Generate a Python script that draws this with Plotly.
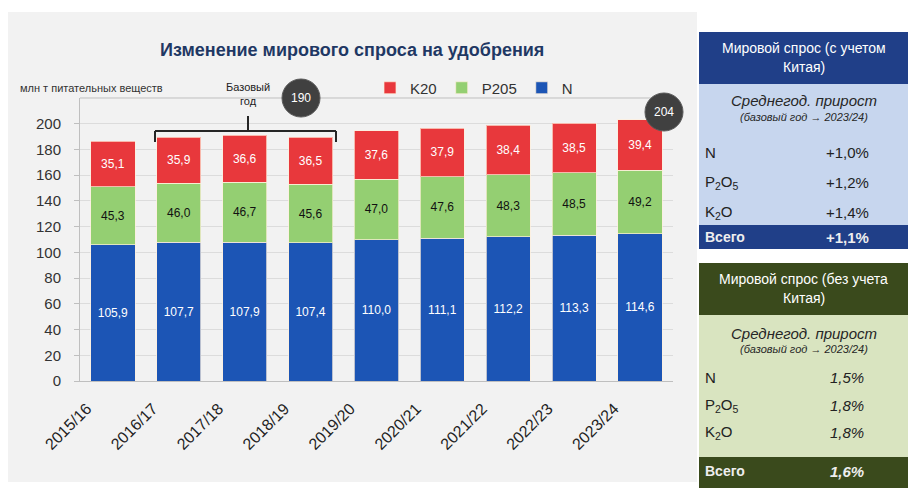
import plotly.graph_objects as go

# --- data -------------------------------------------------------------
seasons = ["2015/16", "2016/17", "2017/18", "2018/19", "2019/20",
           "2020/21", "2021/22", "2022/23", "2023/24"]
n_vals = [105.9, 107.7, 107.9, 107.4, 110.0, 111.1, 112.2, 113.3, 114.6]
p2o5_vals = [45.3, 46.0, 46.7, 45.6, 47.0, 47.6, 48.3, 48.5, 49.2]
k2o_vals = [35.1, 35.9, 36.6, 36.5, 37.6, 37.9, 38.4, 38.5, 39.4]

base_label = "190"
last_label = "204"

y_ticks = [0, 20, 40, 60, 80, 100, 120, 140, 160, 180, 200]

nutrients = ["N", "P<sub>2</sub>O<sub>5</sub>", "K<sub>2</sub>O"]
growth_with_china = ["+1,0%", "+1,2%", "+1,4%"]
total_with_china = "+1,1%"
growth_without_china = ["1,5%", "1,8%", "1,8%"]
total_without_china = "1,6%"

# --- colours / fonts --------------------------------------------------
C_N = "#1c55b5"
C_P = "#94cf72"
C_K = "#e8383c"
BLUE_DARK = "#203f88"
BLUE_LIGHT = "#c7d6ee"
OLIVE_DARK = "#3a4a1c"
OLIVE_LIGHT = "#d9e4c0"
FONT = "Liberation Sans, Arial, sans-serif"

W, H = 910, 488
L, R, T, B = 80, 237, 98, 107
PW, PH = W - L - R, H - T - B


def fx(px):
    return (px - L) / PW


def fy(py):
    return (H - B - py) / PH


def note(text, px, py, size, color, xanchor="center", **kw):
    return dict(text=text, xref="paper", yref="paper", x=fx(px), y=fy(py),
                xanchor=xanchor, yanchor="middle", showarrow=False,
                font=dict(family=FONT, size=size, color=color), **kw)


fig = go.Figure()

for name, vals, col, tcol in [("N", n_vals, C_N, "white"),
                              ("P205", p2o5_vals, C_P, "#111111"),
                              ("K20", k2o_vals, C_K, "white")]:
    fig.add_trace(go.Bar(
        x=seasons, y=vals, name=name,
        marker=dict(color=col, line=dict(color="rgba(255,240,220,0.7)", width=1)),
        texttemplate="%{y:.1f}", textposition="inside",
        insidetextanchor="middle",
        textfont=dict(family=FONT, size=12, color=tcol),
        hoverinfo="skip",
    ))

shapes = []
annotations = []

# grey chart panel
shapes.append(dict(type="rect", xref="paper", yref="paper", layer="below",
                   x0=fx(8), x1=fx(697), y0=fy(482), y1=fy(12),
                   fillcolor="#f2f2f2", line=dict(width=0)))

# top frame line of the plot area
shapes.append(dict(type="line", xref="paper", yref="paper", layer="below",
                   x0=0, x1=1, y0=1, y1=1,
                   line=dict(color="#bfbfbf", width=1)))

# "base year" bracket over 2016/17 .. 2018/19
bx0, bx1, by, bend, bmid = 155, 336, 131, 142, 248
for x0, y0, x1, y1 in [(bx0, by, bx1, by), (bx0, by, bx0, bend),
                       (bx1, by, bx1, bend), (bmid, by, bmid, 116)]:
    shapes.append(dict(type="line", xref="paper", yref="paper",
                       x0=fx(x0), y0=fy(y0), x1=fx(x1), y1=fy(y1),
                       line=dict(color="#262626", width=2)))

annotations.append(note("Базовый<br>год", bmid, 94, 11, "#222222",
                        align="center"))

# value bubbles
for cx, cy, txt in [(301, 98, base_label), (664, 112, last_label)]:
    shapes.append(dict(type="circle", xref="paper", yref="paper",
                       xsizemode="pixel", ysizemode="pixel",
                       xanchor=fx(cx), yanchor=fy(cy),
                       x0=-19, x1=19, y0=-19, y1=19,
                       fillcolor="#404040", line=dict(color="#5a5a5a", width=1)))
    annotations.append(note(txt, cx, cy, 12, "white"))

# title and unit label
annotations.append(note("<b>Изменение мирового спроса на удобрения</b>",
                        352, 50, 18, "#1f3864"))
annotations.append(note("млн т питательных веществ", 18, 88, 11, "#333333",
                        xanchor="left"))


def side_table(top, head_bot, body_bot, bottom, dark, light, title_lines,
               rows, row_vals, total_val, title_y, sub_y, row_y, total_y,
               value_italic):
    x0, x1 = 699, 908
    for ya, yb, col in [(top, head_bot, dark), (head_bot, body_bot, light),
                        (body_bot, bottom, dark)]:
        shapes.append(dict(type="rect", xref="paper", yref="paper",
                           x0=fx(x0), x1=fx(x1), y0=fy(yb), y1=fy(ya),
                           fillcolor=col, line=dict(width=0)))
    cx = (x0 + x1) / 2
    for ty, line in zip(title_y, title_lines):
        annotations.append(note(line, cx, ty, 14, "white"))
    annotations.append(note("<i>Среднегод. прирост</i>", cx, sub_y[0], 15,
                            "#262626"))
    annotations.append(note("<i>(базовый год → 2023/24)</i>", cx, sub_y[1], 11,
                            "#262626"))
    for ry, lab, val in zip(row_y, rows, row_vals):
        annotations.append(note(lab, 703, ry, 15, "#222222", xanchor="left"))
        vtxt = f"<i>{val}</i>" if value_italic else val
        annotations.append(note(vtxt, 847, ry, 15, "#222222"))
    annotations.append(note("<b>Всего</b>", 703, total_y, 14, "#eeeeee",
                            xanchor="left"))
    vtxt = f"<b><i>{total_val}</i></b>" if value_italic else f"<b>{total_val}</b>"
    annotations.append(note(vtxt, 847, total_y, 15, "#eeeeee"))


side_table(32, 84, 225, 249, BLUE_DARK, BLUE_LIGHT,
           ["Мировой спрос (с учетом", "Китая)"],
           nutrients, growth_with_china, total_with_china,
           [48, 67], [101, 117], [152, 182, 212], 237, False)

side_table(263, 315, 457, 488, OLIVE_DARK, OLIVE_LIGHT,
           ["Мировой спрос (без учета", "Китая)"],
           nutrients, growth_without_china, total_without_china,
           [279, 298], [333, 349], [377, 405, 432], 471, True)

fig.update_layout(
    width=W, height=H,
    margin=dict(l=L, r=R, t=T, b=B, pad=0),
    paper_bgcolor="white", plot_bgcolor="rgba(0,0,0,0)",
    barmode="stack", bargap=0.33,
    separators=", ",
    showlegend=True,
    legend=dict(orientation="h", traceorder="reversed",
                x=fx(370), y=fy(88), xanchor="left", yanchor="middle",
                bgcolor="rgba(0,0,0,0)",
                font=dict(family=FONT, size=15, color="#333333"),
                itemwidth=30),
    shapes=shapes, annotations=annotations,
    font=dict(family=FONT),
)

fig.update_yaxes(range=[0, 220], tickvals=y_ticks,
                 showgrid=True, gridcolor="#dcdcdc", gridwidth=1,
                 showline=True, linecolor="#bfbfbf", linewidth=1,
                 ticks="outside", ticklen=5, tickcolor="#bfbfbf",
                 ticklabelstandoff=10, zeroline=False,
                 tickfont=dict(family=FONT, size=15, color="#333333"))
fig.update_xaxes(tickangle=-45, showline=True, linecolor="#bfbfbf",
                 linewidth=1, ticks="", ticklabelshift=-26,
                 ticklabelstandoff=11,
                 tickfont=dict(family=FONT, size=16, color="#222222"))

fig.write_html("out.html")
